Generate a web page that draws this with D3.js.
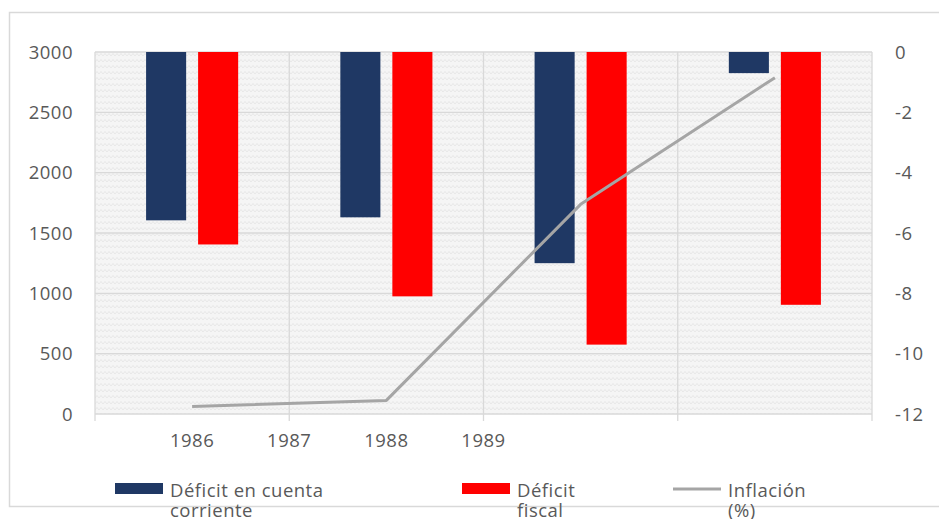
<!DOCTYPE html>
<html>
<head>
<meta charset="utf-8">
<script src="https://cdn.jsdelivr.net/npm/d3@7"></script>
<style>
  body { margin: 0; background: #fff; }
  svg text { font-family: "Open Sans", "Noto Sans", sans-serif; fill: #595959; letter-spacing: 0.5px; }
</style>
</head>
<body>
<svg id="chart" width="939" height="519"></svg>
<script>
// data
const years = ["1986", "1987", "1988", "1989"];
const cuentaCorriente = [1605, 1630, 1250, 2825];
const fiscal = [1405, 975, 575, 905];
const inflacion = [-11.75, -11.55, -5.05, -0.85];
const tickLabels = ["1986", "1987", "1988", "1989"];
const leftTicks = [0, 500, 1000, 1500, 2000, 2500, 3000];
const rightTicks = [0, -2, -4, -6, -8, -10, -12];

const margin = { left: 95, right: 67, top: 52, bottom: 105 };
const W = 939, H = 519;
const innerW = W - margin.left - margin.right;
const innerH = H - margin.top - margin.bottom;
const fontSize = 18.5;

const svg = d3.select("#chart");

// outer chart frame (no right edge visible)
svg.append("path")
    .attr("d", `M939,12.5 H9.5 V506.5 H939`)
    .attr("fill", "none")
    .attr("stroke", "#d9d9d9")
    .attr("stroke-width", 1.5);

const defs = svg.append("defs");
const pat = defs.append("pattern")
    .attr("id", "zig")
    .attr("patternUnits", "userSpaceOnUse")
    .attr("width", 8).attr("height", 6);
pat.append("rect").attr("width", 8).attr("height", 6).attr("fill", "#f5f5f5");
pat.append("path")
    .attr("d", "M0,4 L2,1.5 L4,4 L6,1.5 L8,4")
    .attr("fill", "none").attr("stroke", "#e8e8e8").attr("stroke-width", 1);

const g = svg.append("g")
    .attr("transform", `translate(${margin.left}, ${margin.top})`);

let x0 = d3.scaleBand().domain(years).range([0, innerW])
    .paddingInner(0.526).paddingOuter(0.263);
let x1 = d3.scaleBand().domain(["cc", "f"]).range([0, x0.bandwidth()])
    .paddingInner(0.23);
let xPos = d3.scaleLinear().domain([0, years.length]).range([0, innerW]);
let yL = d3.scaleLinear().domain([0, 3000]).range([innerH, 0]);
let yR = d3.scaleLinear().domain([-12, 0]).range([innerH, 0]);

g.append("rect")
    .attr("width", innerW).attr("height", innerH)
    .attr("fill", "url(#zig)");

// horizontal grid
g.selectAll("line.hgrid")
    .data(leftTicks)
    .enter().append("line")
        .attr("class", "hgrid")
        .attr("x1", 0).attr("x2", innerW)
        .attr("y1", d => yL(d)).attr("y2", d => yL(d))
        .attr("stroke", "#d9d9d9").attr("stroke-width", 1.3);

// vertical grid at band borders, with small ticks below
g.selectAll("line.vgrid")
    .data(d3.range(years.length + 1))
    .enter().append("line")
        .attr("class", "vgrid")
        .attr("x1", d => xPos(d)).attr("x2", d => xPos(d))
        .attr("y1", 0).attr("y2", innerH + 7)
        .attr("stroke", "#d9d9d9").attr("stroke-width", 1.3);

// bars hang down from the top of the left axis
const series = [
    { key: "cc", values: cuentaCorriente, color: "#1f3864" },
    { key: "f", values: fiscal, color: "#ff0000" }
];
series.forEach(s => {
    g.selectAll(`rect.bar-${s.key}`)
        .data(s.values)
        .enter().append("rect")
            .attr("class", `bar-${s.key}`)
            .attr("x", (d, i) => x0(years[i]) + x1(s.key))
            .attr("width", x1.bandwidth())
            .attr("y", yL(3000))
            .attr("height", d => yL(d) - yL(3000))
            .attr("fill", s.color);
});

// inflation line on the right axis
const line = d3.line()
    .x((d, i) => x0(years[i]) + x0.bandwidth() / 2)
    .y(d => yR(d));
g.append("path")
    .datum(inflacion)
    .attr("d", line)
    .attr("fill", "none")
    .attr("stroke", "#a5a5a5")
    .attr("stroke-width", 3)
    .attr("stroke-linejoin", "round");

// left axis labels
g.selectAll("text.yl")
    .data(leftTicks)
    .enter().append("text")
        .attr("class", "yl")
        .attr("x", -22).attr("y", d => yL(d))
        .attr("dy", "0.36em")
        .attr("text-anchor", "end")
        .attr("font-size", fontSize)
        .text(d => d);

// right axis labels
g.selectAll("text.yr")
    .data(rightTicks)
    .enter().append("text")
        .attr("class", "yr")
        .attr("x", innerW + 23).attr("y", d => yR(d))
        .attr("dy", "0.36em")
        .attr("text-anchor", "start")
        .attr("font-size", fontSize)
        .text(d => d);

// x labels sit at half-band steps
g.selectAll("text.xl")
    .data(tickLabels)
    .enter().append("text")
        .attr("class", "xl")
        .attr("x", (d, i) => xPos(0.5 + i * 0.5))
        .attr("y", innerH + 33)
        .attr("text-anchor", "middle")
        .attr("font-size", fontSize)
        .text(d => d);

// legend
const legend = [
    { lines: ["Déficit en cuenta", "corriente"], color: "#1f3864", type: "rect", x: 115 },
    { lines: ["Déficit", "fiscal"], color: "#ff0000", type: "rect", x: 462 },
    { lines: ["Inflación", "(%)"], color: "#a5a5a5", type: "line", x: 673 }
];
legend.forEach(l => {
    if (l.type === "rect")
        svg.append("rect")
            .attr("x", l.x).attr("y", 483)
            .attr("width", 48).attr("height", 11)
            .attr("fill", l.color);
    else
        svg.append("line")
            .attr("x1", l.x).attr("x2", l.x + 48)
            .attr("y1", 489).attr("y2", 489)
            .attr("stroke", l.color).attr("stroke-width", 3);

    svg.append("text")
        .attr("x", l.x + 55).attr("y", 497)
        .attr("font-size", fontSize)
        .selectAll("tspan")
        .data(l.lines)
        .enter().append("tspan")
            .attr("x", l.x + 55)
            .attr("dy", (d, i) => i ? 20 : 0)
            .text(d => d);
});
</script>
</body>
</html>
